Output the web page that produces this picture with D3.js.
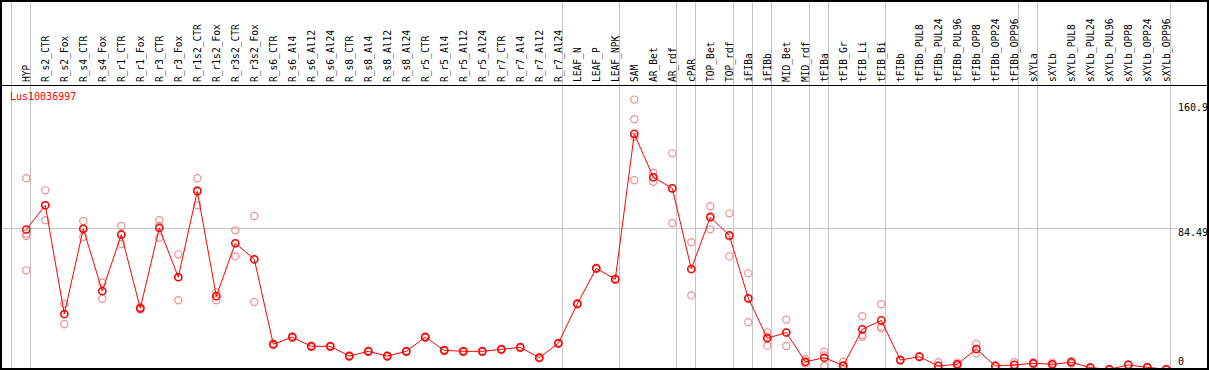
<!DOCTYPE html>
<html>
<head>
<meta charset="utf-8">
<script src="https://cdn.jsdelivr.net/npm/d3@7"></script>
<style>
  html, body { margin: 0; padding: 0; background: #fff; }
  svg { display: block; }
  text { font-family: "DejaVu Sans Mono", "Liberation Mono", monospace; }
</style>
</head>
<body>
<div id="chart"></div>
<script>
const geneId = 'Lus10036997';

const categories = [
    'HYP', 'R_s2_CTR', 'R_s2_Fox', 'R_s4_CTR', 'R_s4_Fox', 'R_r1_CTR', 'R_r1_Fox',
    'R_r3_CTR', 'R_r3_Fox', 'R_r1s2_CTR', 'R_r1s2_Fox', 'R_r3s2_CTR', 'R_r3s2_Fox',
    'R_s6_CTR', 'R_s6_Al4', 'R_s6_Al12', 'R_s6_Al24', 'R_s8_CTR', 'R_s8_Al4',
    'R_s8_Al12', 'R_s8_Al24', 'R_r5_CTR', 'R_r5_Al4', 'R_r5_Al12', 'R_r5_Al24',
    'R_r7_CTR', 'R_r7_Al4', 'R_r7_Al12', 'R_r7_Al24', 'LEAF_N', 'LEAF_P', 'LEAF_NPK',
    'SAM', 'AR_Bet', 'AR_rdf', 'cPAR', 'TOP_Bet', 'TOP_rdf', 'iFIBa', 'iFIBb',
    'MID_Bet', 'MID_rdf', 'tFIBa', 'tFIB_Gr', 'tFIB_Li', 'tFIB_Bi', 'tFIBb',
    'tFIBb_PUL8', 'tFIBb_PUL24', 'tFIBb_PUL96', 'tFIBb_OPP8', 'tFIBb_OPP24', 'tFIBb_OPP96',
    'sXYLa', 'sXYLb', 'sXYLb_PUL8', 'sXYLb_PUL24', 'sXYLb_PUL96', 'sXYLb_OPP8',
    'sXYLb_OPP24', 'sXYLb_OPP96'
];

// mean expression per sample
const meanValues = [
    83.6, 98.0, 33.3, 84.0, 47.0, 80.5, 36.7, 84.5, 55.2, 106.4, 43.9, 75.4, 65.9,
    15.3, 19.6, 14.1, 14.1, 8.3, 11.1, 8.3, 11.1, 19.6, 11.7, 11.1, 11.1,
    12.3, 13.5, 7.3, 15.9, 39.3, 60.5, 54.0,
    140.5, 114.7, 108.1, 60.1, 90.9, 80.1, 42.7, 18.9, 22.3, 4.9, 7.3, 2.6, 24.2, 29.5,
    5.9, 7.9, 2.4, 3.4, 12.5, 2.4, 3.0,
    4.0, 3.4, 4.6, 1.4, 0.4, 3.0, 1.6, 0.4
];

// individual replicates
const replicateValues = [
    [114.1, 81.1, 79.7, 59.3], [106.9, 98.0, 89.1], [39.4, 33.3, 27.2], [88.7, 84.0, 79.3],
    [51.9, 46.8, 42.4], [85.7, 80.8, 75.0], [37.5, 36.7, 35.9], [89.1, 85.7, 78.7],
    [68.8, 55.3, 41.5], [114.1, 107.1, 98.0], [46.2, 44.0, 41.5], [83.1, 75.5, 67.6],
    [91.6, 65.6, 40.5],
    [15.8, 15.3, 14.8], [20.1, 19.6, 19.1], [14.6, 14.1, 13.6], [14.5, 14.1, 13.7],
    [8.7, 8.3, 7.9], [11.5, 11.1, 10.7], [8.7, 8.3, 7.9], [11.5, 11.1, 10.7],
    [20.0, 19.6, 19.2], [12.1, 11.7, 11.3], [11.5, 11.1, 10.7], [11.5, 11.1, 10.7],
    [12.7, 12.3, 11.9], [13.9, 13.5, 13.1], [7.7, 7.3, 6.9], [16.3, 15.9, 15.5],
    [39.7, 39.3, 38.9], [60.9, 60.5, 60.1], [54.4, 54.0, 53.6],
    [160.9, 149.2, 138.8, 112.9], [117.4, 114.7, 112.0], [128.9, 108.1, 87.3],
    [76.0, 60.0, 44.4], [97.4, 91.6, 83.7], [93.2, 79.5, 67.6], [57.5, 42.2, 28.4],
    [22.4, 19.8, 14.5], [30.0, 22.3, 14.3], [6.4, 4.4, 4.0], [10.9, 8.6, 2.4],
    [4.9, 2.6, 0.3], [32.0, 20.8, 19.8], [39.1, 25.8, 24.8],
    [6.2, 5.9, 5.6], [8.2, 7.9, 7.6], [4.6, 2.4, 0.3], [4.4, 3.4, 2.4],
    [15.5, 12.5, 9.9], [2.7, 2.4, 2.1], [4.6, 3.0, 1.4],
    [4.6, 4.0, 3.4], [4.4, 3.4, 2.4], [5.4, 4.6, 3.8], [1.7, 1.4, 1.1],
    [0.6, 0.4, 0.2], [3.3, 3.0, 2.7], [1.9, 1.6, 1.3], [0.6, 0.4, 0.2]
];

// samples that open a new tissue group (gray separators)
const groupStarts = [
    'HYP', 'R_s2_CTR', 'LEAF_N', 'SAM', 'cPAR', 'TOP_Bet', 'iFIBa', 'iFIBb',
    'MID_Bet', 'tFIBa', 'tFIB_Gr', 'tFIBb', 'sXYLa', 'sXYLb'
];

const tickValues = [160.9, 84.49, 0];
const tickLabels = ['160.9', '84.49', '0'];
const gridValues = [84.49];
const axisMax = 168.98;

class ExpressionProfile {
    constructor(containerId) {
        this.container = document.getElementById(containerId);
        this.width = 1209;
        this.height = 370;
        this.headerBottom = 85;
        this.plotTop = 86;
        this.plotLeft = 11;
        this.plotRight = 1170;

        this.svg = d3.select(this.container)
            .append('svg')
            .attr('width', this.width)
            .attr('height', this.height);

        this.x = d3.scaleBand()
            .domain(categories)
            .range([this.plotLeft, this.plotRight])
            .padding(0);

        this.y = d3.scaleLinear()
            .domain([0, axisMax])
            .range([this.height, this.plotTop]);

        this.draw();
    }

    px(name) {
        // markers sit toward the right side of each sample slot
        return this.x(name) + 15.3;
    }

    draw() {
        const svg = this.svg;
        const y = this.y;

        // group separators
        const sepX = groupStarts.map(c => this.x(c)).concat([this.plotRight]);
        svg.append('g')
            .selectAll('line')
            .data(sepX)
            .enter()
            .append('line')
            .attr('x1', d => d + 0.5)
            .attr('x2', d => d + 0.5)
            .attr('y1', 0)
            .attr('y2', this.height)
            .attr('stroke', '#c4c4c4')
            .attr('stroke-width', 1);

        // horizontal grid
        svg.append('g')
            .selectAll('line')
            .data(gridValues)
            .enter()
            .append('line')
            .attr('x1', 0)
            .attr('x2', 1177)
            .attr('y1', d => Math.round(y(d)) + 0.5)
            .attr('y2', d => Math.round(y(d)) + 0.5)
            .attr('stroke', '#c4c4c4')
            .attr('stroke-width', 1);

        // header separator
        svg.append('line')
            .attr('x1', 0)
            .attr('x2', this.width)
            .attr('y1', this.headerBottom + 0.5)
            .attr('y2', this.headerBottom + 0.5)
            .attr('stroke', '#000')
            .attr('stroke-width', 1);

        // sample labels
        svg.append('g')
            .selectAll('text')
            .data(categories)
            .enter()
            .append('text')
            .attr('transform', d => `translate(${this.px(d)},82) rotate(-90)`)
            .attr('dy', '0.36em')
            .style('font-size', '9.6px')
            .attr('fill', '#000')
            .text(d => d);

        // y tick labels
        svg.append('g')
            .selectAll('text')
            .data(tickValues)
            .enter()
            .append('text')
            .attr('x', 1178)
            .attr('y', (d, i) => y(d) + (i === 0 ? 11 : (d === 0 ? -4.7 : 8)))
            .style('font-size', '10px')
            .attr('fill', '#000')
            .text((d, i) => tickLabels[i]);

        // gene id
        svg.append('text')
            .attr('x', 10)
            .attr('y', 100)
            .style('font-size', '10px')
            .attr('fill', '#ff0000')
            .text(geneId);

        // replicate points
        const reps = [];
        categories.forEach((c, i) => {
            replicateValues[i].forEach(v => reps.push({ c: c, v: v }));
        });

        svg.append('g')
            .selectAll('circle')
            .data(reps)
            .enter()
            .append('circle')
            .attr('cx', d => this.px(d.c))
            .attr('cy', d => y(d.v))
            .attr('r', 3.6)
            .attr('fill', 'none')
            .attr('stroke', '#ee9090')
            .attr('stroke-width', 1.2);

        // mean line
        const means = categories.map((c, i) => ({ c: c, v: meanValues[i] }));
        const line = d3.line()
            .x(d => this.px(d.c))
            .y(d => y(d.v));

        svg.append('path')
            .datum(means)
            .attr('d', line)
            .attr('fill', 'none')
            .attr('stroke', '#ff0000')
            .attr('stroke-width', 1);

        svg.append('g')
            .selectAll('circle')
            .data(means)
            .enter()
            .append('circle')
            .attr('cx', d => this.px(d.c))
            .attr('cy', d => y(d.v))
            .attr('r', 3.6)
            .attr('fill', 'none')
            .attr('stroke', '#ff0000')
            .attr('stroke-width', 1.5);

        // outer frame
        svg.append('rect')
            .attr('x', 1)
            .attr('y', 1)
            .attr('width', this.width - 2)
            .attr('height', this.height - 2)
            .attr('fill', 'none')
            .attr('stroke', '#000')
            .attr('stroke-width', 2);
    }
}

document.addEventListener('DOMContentLoaded', () => {
    new ExpressionProfile('chart');
});
</script>
</body>
</html>
